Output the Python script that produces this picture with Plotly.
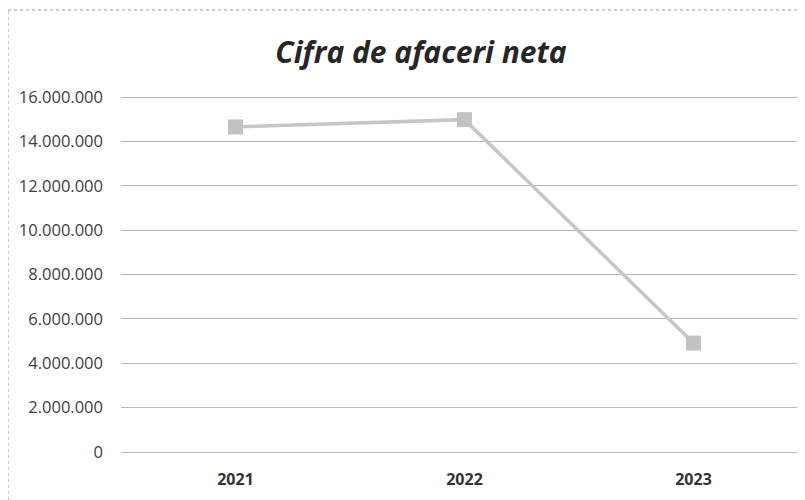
import plotly.graph_objects as go

years = ["2021", "2022", "2023"]
values = [14650000, 14980000, 4910000]
y_ticks = [0, 2000000, 4000000, 6000000, 8000000, 10000000, 12000000, 14000000, 16000000]

# page has an 8px body margin; figure is drawn from (8, 8)
OFF = 8
W, H = 805 - OFF, 500 - OFF
PAD = 2  # px padding so edge gridlines are drawn
L = 121 - OFF
R = 0
T = 97 - OFF - PAD
B = 48 - PAD
pw, ph = W - L - R, H - T - B
per_px = 16000000 / (355.0)
ypad = PAD * per_px

fig = go.Figure()
fig.add_trace(go.Scatter(
    x=years, y=values, mode="lines+markers",
    line=dict(color="#c6c6c6", width=3.5),
    marker=dict(symbol="square", size=15, color="#c2c2c2"),
    showlegend=False,
))

span = pw / 229.0
fig.update_layout(
    width=W, height=H,
    margin=dict(l=L, r=R, t=T, b=B),
    paper_bgcolor="white", plot_bgcolor="white",
    separators=",.",
    font=dict(family="Open Sans", color="#404040"),
    title=dict(text="<b><i>Cifra de afaceri neta</i></b>", x=(421 - OFF) / W, xanchor="center",
               y=1 - (52 - OFF) / H, yanchor="middle",
               font=dict(size=30, color="#262626", family="Open Sans")),
    xaxis=dict(type="category", range=[-0.5, -0.5 + span], showgrid=False,
               zeroline=False, showline=False, ticks="",
               tickfont=dict(size=16, color="#333333", family="Open Sans", weight="bold"),
               ticklabelstandoff=14),
    yaxis=dict(range=[-ypad, 16000000 + ypad], tickvals=y_ticks, tickformat=",d",
               showgrid=True, gridcolor="#b8b8b8", gridwidth=1,
               zeroline=False, showline=False, ticks="",
               tickfont=dict(size=16.5, color="#404040", family="Open Sans"),
               ticklabelstandoff=17),
)

# dotted frame (left and top edges)
x_left = (8 - 121) / pw
y_top = (452 + PAD - 10) / ph
y_bot = (452 + PAD - 500) / ph
fig.add_shape(type="line", xref="paper", yref="paper", x0=x_left, x1=x_left,
              y0=y_bot, y1=y_top, line=dict(color="#9a9a9a", width=1, dash="dot"))
fig.add_shape(type="line", xref="paper", yref="paper", x0=x_left, x1=1.01,
              y0=y_top, y1=y_top, line=dict(color="#9a9a9a", width=1, dash="dot"))

fig.write_html("out.html")
